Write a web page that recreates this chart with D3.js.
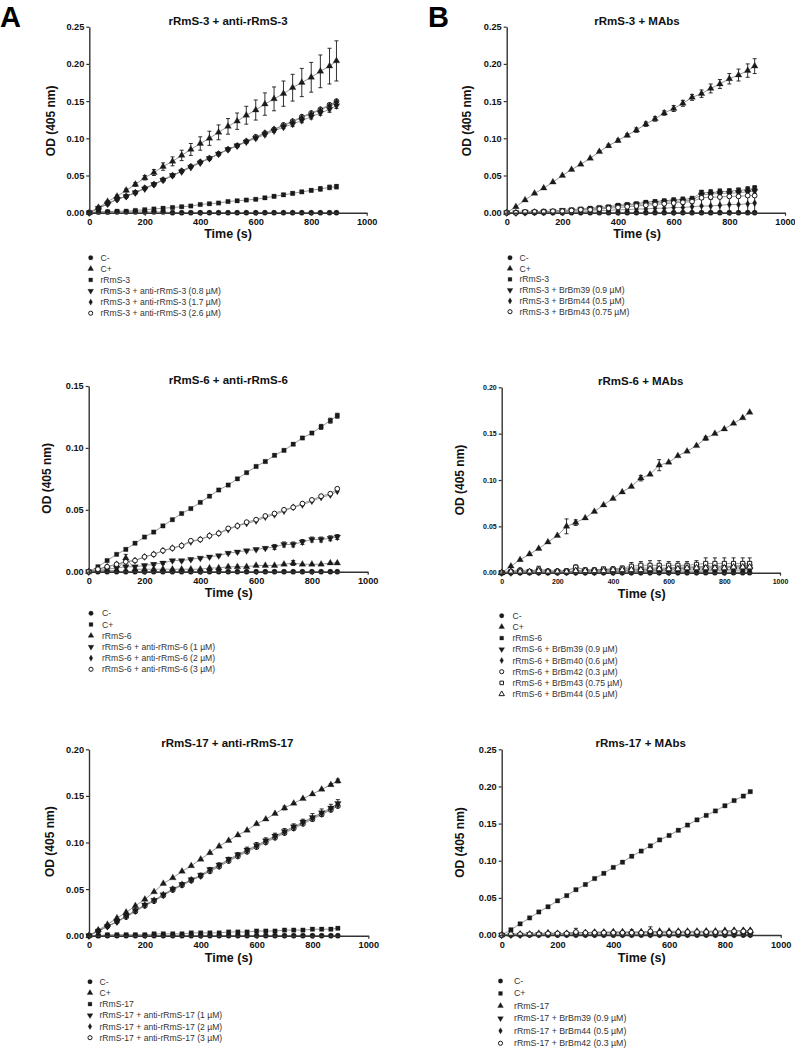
<!DOCTYPE html>
<html><head><meta charset="utf-8">
<script src="https://cdn.jsdelivr.net/npm/d3@7"></script>
<style>body{margin:0;background:#fff}svg{display:block}text{font-family:"Liberation Sans",Arial,sans-serif}</style>
</head><body><svg id="c" width="795" height="1050"></svg>
<script>
// ---------- DATA ----------
const times = [0,33,66,100,133,166,200,233,266,300,333,366,400,433,466,500,533,566,600,633,666,700,733,766,800,833,866,891];
const xTicks = [0,200,400,600,800,1000];
const yTicks025 = [0,0.05,0.10,0.15,0.20,0.25];
const yTicks020 = [0,0.05,0.10,0.15,0.20];
const yTicks015 = [0,0.05,0.10,0.15];

// Panel A1: rRmS-3 + anti-rRmS-3
const a1Labels = ["C-","C+","rRmS-3","rRmS-3 + anti-rRmS-3 (0.8 \u00B5M)","rRmS-3 + anti-rRmS-3 (1.7 \u00B5M)","rRmS-3 + anti-rRmS-3 (2.6 \u00B5M)"];
const a1Cneg = [0,0.001,0.001,0.001,0.001,0.001,0.001,0.001,0.001,0,0,0,0,0,0,0,0,0,0,0,0,0,0,0,0,0,0,0];
const a1Cpos = [0,0.007,0.015,0.022,0.030,0.038,0.047,0.054,0.062,0.069,0.077,0.085,0.093,0.100,0.108,0.116,0.123,0.131,0.138,0.146,0.153,0.160,0.168,0.175,0.182,0.190,0.197,0.204];
const a1CposErr = [0,0.0005,0.001,0.0015,0.002,0.0025,0.003,0.004,0.005,0.006,0.007,0.008,0.009,0.0095,0.010,0.0105,0.011,0.012,0.0135,0.015,0.016,0.017,0.018,0.019,0.020,0.022,0.024,0.027];
const a1Enz = [0,0.001,0.001,0.002,0.002,0.003,0.004,0.005,0.006,0.007,0.008,0.009,0.011,0.012,0.013,0.015,0.016,0.017,0.018,0.020,0.022,0.024,0.026,0.028,0.030,0.032,0.034,0.035];
const a1EnzErr = [0,0,0,0,0,0.001,0.001,0.001,0.001,0.001,0.001,0.001,0.001,0.001,0.001,0.001,0.001,0.001,0.001,0.001,0.002,0.002,0.002,0.002,0.002,0.003,0.003,0.003];
const a1Ab1 = [0,0.006,0.012,0.018,0.022,0.027,0.032,0.038,0.044,0.050,0.055,0.061,0.067,0.073,0.079,0.085,0.090,0.095,0.100,0.105,0.110,0.115,0.119,0.124,0.129,0.134,0.139,0.144];
const a1Ab1Err = [0,0,0,0,0,0,0,0,0,0,0,0,0.001,0.001,0.001,0.001,0.001,0.002,0.002,0.002,0.002,0.002,0.003,0.003,0.003,0.003,0.004,0.004];
const a1Ab2 = [0,0.006,0.012,0.018,0.022,0.027,0.033,0.038,0.044,0.050,0.056,0.062,0.068,0.073,0.079,0.085,0.090,0.096,0.101,0.107,0.112,0.117,0.122,0.128,0.133,0.138,0.144,0.149];
const a1Ab3 = [0,0.006,0.012,0.018,0.022,0.027,0.033,0.038,0.044,0.050,0.056,0.062,0.068,0.073,0.079,0.085,0.090,0.096,0.102,0.107,0.112,0.118,0.123,0.129,0.134,0.139,0.145,0.150];

// Panel B1: rRmS-3 + MAbs
const b1Labels = ["C-","C+","rRmS-3","rRmS-3 + BrBm39 (0.9 \u00B5M)","rRmS-3 + BrBm44 (0.5 \u00B5M)","rRmS-3 + BrBm43 (0.75 \u00B5M)"];
const b1Cneg = [0,0,0,0,0,0,0,0,0,0,0,0,0,0,0,0,0,0,0,0,0,0,0,0,0,0,0,0];
const b1Cpos = [0,0.008,0.017,0.026,0.033,0.041,0.050,0.058,0.065,0.073,0.082,0.090,0.097,0.104,0.111,0.119,0.126,0.134,0.140,0.147,0.155,0.160,0.167,0.173,0.180,0.185,0.191,0.197];
const b1CposErr = [0,0,0,0,0,0,0,0,0,0,0.001,0.002,0.002,0.002,0.003,0.003,0.003,0.003,0.004,0.004,0.004,0.005,0.006,0.006,0.007,0.008,0.009,0.010];
const b1Enz = [0,0,0.001,0.001,0.002,0.002,0.003,0.004,0.005,0.006,0.007,0.008,0.010,0.011,0.012,0.014,0.015,0.016,0.017,0.018,0.019,0.027,0.027,0.028,0.029,0.030,0.031,0.033];
const b1EnzErr = [0,0,0,0,0,0,0.001,0.001,0.001,0.001,0.001,0.001,0.001,0.001,0.002,0.002,0.002,0.002,0.002,0.002,0.002,0.003,0.003,0.003,0.003,0.003,0.003,0.003];
const b1Bm39 = [0,0,0.001,0.001,0.001,0.002,0.003,0.003,0.004,0.005,0.006,0.007,0.009,0.010,0.011,0.012,0.013,0.014,0.015,0.016,0.017,0.024,0.025,0.026,0.026,0.027,0.028,0.029];
const b1Bm39Err = [0,0,0,0,0,0,0.001,0.001,0.001,0.002,0.002,0.002,0.003,0.003,0.003,0.004,0.004,0.004,0.005,0.005,0.005,0.006,0.006,0.006,0.006,0.006,0.007,0.007];
const b1Bm44 = [0,0,0,0.001,0.001,0.001,0.001,0.002,0.002,0.002,0.003,0.003,0.004,0.004,0.005,0.005,0.006,0.006,0.007,0.007,0.008,0.009,0.009,0.010,0.011,0.011,0.012,0.013];
const b1Bm44Err = [0,0,0,0.001,0.001,0.001,0.001,0.002,0.002,0.002,0.003,0.003,0.004,0.004,0.005,0.005,0.006,0.006,0.007,0.007,0.008,0.009,0.009,0.010,0.011,0.011,0.012,0.013];
const b1Bm43 = [0,0,0.001,0.001,0.001,0.002,0.002,0.003,0.004,0.004,0.005,0.006,0.007,0.008,0.009,0.010,0.011,0.012,0.013,0.014,0.015,0.020,0.021,0.021,0.022,0.022,0.023,0.023];

// Panel A2: rRmS-6 + anti-rRmS-6
const a2Labels = ["C-","C+","rRmS-6","rRmS-6 + anti-rRmS-6 (1 \u00B5M)","rRmS-6 + anti-rRmS-6 (2 \u00B5M)","rRmS-6 + anti-rRmS-6 (3 \u00B5M)"];
const a2Cneg = [0,0,0,0,0,0,0,0,0,0,0,0,0,0,0,0,0,0,0,0,0,0,0,0,0,0,0,0];
const a2Cpos = [0,0.004,0.009,0.014,0.018,0.023,0.028,0.032,0.037,0.042,0.047,0.051,0.056,0.061,0.066,0.070,0.075,0.080,0.085,0.089,0.094,0.098,0.103,0.108,0.112,0.117,0.122,0.126];
const a2CposErr = [0,0,0,0,0.001,0,0,0,0,0,0,0,0,0,0,0,0,0,0.001,0.001,0.001,0.001,0.001,0.001,0.001,0.002,0.002,0.002];
const a2Enz = [0,0.001,0.001,0.001,0.011,0.002,0.002,0.002,0.002,0.002,0.002,0.002,0.002,0.003,0.003,0.004,0.004,0.004,0.005,0.005,0.005,0.006,0.007,0.006,0.006,0.006,0.007,0.007];
const a2EnzErr = [0,0,0,0,0.003,0,0,0,0,0,0,0,0,0,0,0,0,0,0,0,0,0,0.002,0,0,0,0,0];
const a2Ab1 = [0,0.001,0.002,0.003,0.004,0.004,0.005,0.006,0.007,0.009,0.009,0.010,0.011,0.012,0.013,0.015,0.016,0.017,0.018,0.019,0.020,0.022,0.022,0.024,0.026,0.026,0.027,0.028];
const a2Ab1Err = [0,0,0,0,0,0,0.001,0.001,0.001,0.001,0.001,0.001,0.001,0.001,0.001,0.001,0.001,0.001,0.001,0.001,0.002,0.002,0.002,0.002,0.002,0.002,0.002,0.002];
const a2Ab2 = [0,0.002,0.004,0.006,0.008,0.009,0.012,0.014,0.017,0.019,0.021,0.024,0.026,0.029,0.031,0.034,0.037,0.039,0.041,0.044,0.046,0.049,0.052,0.054,0.057,0.060,0.062,0.065];
const a2Ab3 = [0,0.002,0.004,0.006,0.008,0.009,0.012,0.014,0.017,0.019,0.021,0.025,0.026,0.029,0.031,0.035,0.037,0.040,0.042,0.045,0.047,0.050,0.052,0.055,0.058,0.061,0.063,0.067];

// Panel B2: rRmS-6 + MAbs
const b2Labels = ["C-","C+","rRmS-6","rRmS-6 + BrBm39 (0.9 \u00B5M)","rRmS-6 + BrBm40 (0.6 \u00B5M)","rRmS-6 + BrBm42 (0.3 \u00B5M)","rRmS-6 + BrBm43 (0.75 \u00B5M)","rRmS-6 + BrBm44 (0.5 \u00B5M)"];
const b2Cneg = [0,0,0,0,0,0,0,0,0,0,0,0,0,0,0,0,0,0,0,0,0,0,0,0,0,0,0,0];
const b2Cpos = [0,0.007,0.014,0.020,0.026,0.033,0.040,0.050,0.054,0.059,0.066,0.073,0.080,0.087,0.093,0.102,0.106,0.116,0.119,0.126,0.131,0.137,0.145,0.150,0.155,0.161,0.167,0.173];
const b2CposErr = [0,0,0,0,0,0,0,0.008,0.003,0,0,0,0,0,0,0.003,0,0.006,0,0,0,0,0.002,0,0,0,0,0];
const b2Enz = [0,0.001,0.001,0.001,0.002,0.001,0.001,0.001,0.002,0.002,0.002,0.002,0.002,0.002,0.003,0.003,0.003,0.003,0.004,0.004,0.006,0.006,0.006,0.006,0.006,0.007,0.007,0.007];
const b2Bm39 = [0,0,0.001,0.001,0.001,0.001,0.001,0.001,0.001,0.001,0.001,0.002,0.002,0.002,0.002,0.002,0.002,0.002,0.003,0.003,0.003,0.003,0.003,0.003,0.003,0.004,0.004,0.004];
const b2Bm40 = [0,0.001,0.001,0.001,0.001,0.001,0.001,0.001,0.001,0.001,0.001,0.001,0.001,0.001,0.001,0.001,0.001,0.001,0.001,0.001,0.001,0.001,0.002,0.002,0.002,0.002,0.002,0.002];
const b2Bm42 = [0,0.001,0.003,0.001,0.004,0.002,0.002,0.002,0.006,0.003,0.003,0.003,0.004,0.004,0.005,0.005,0.005,0.005,0.005,0.006,0.006,0.006,0.007,0.007,0.007,0.007,0.008,0.008];
const b2Bm42Err = [0,0,0.001,0,0.003,0,0,0,0.001,0,0,0,0.001,0.001,0.002,0.002,0.003,0.003,0.003,0.003,0.003,0.003,0.004,0.004,0.004,0.004,0.004,0.004];
const b2Bm43 = [0,0.001,0.002,0.001,0.002,0.001,0.001,0.002,0.006,0.003,0.003,0.004,0.004,0.005,0.007,0.008,0.008,0.008,0.008,0.008,0.008,0.009,0.010,0.010,0.010,0.010,0.010,0.010];
const b2Bm43Err = [0,0.001,0.002,0.001,0.004,0.001,0.001,0.001,0.002,0.001,0.001,0.002,0.002,0.002,0.004,0.004,0.005,0.005,0.004,0.004,0.004,0.004,0.006,0.006,0.006,0.006,0.006,0.006];
const b2Bm44 = [0,0.001,0.001,0.001,0.002,0.001,0.001,0.001,0.002,0.002,0.002,0.002,0.003,0.003,0.003,0.003,0.004,0.004,0.004,0.004,0.005,0.005,0.005,0.005,0.005,0.006,0.006,0.006];

// Panel A3: rRmS-17 + anti-rRmS-17
const a3Labels = ["C-","C+","rRmS-17","rRmS-17 + anti-rRmS-17 (1 \u00B5M)","rRmS-17 + anti-rRmS-17 (2 \u00B5M)","rRmS-17 + anti-rRmS-17 (3 \u00B5M)"];
const a3Cneg = [0,0,0,0,0,0,0,0,0,0,0,0,0,0,0,0,0,0,0,0,0,0,0,0,0,0,0,0];
const a3Cpos = [0,0.006,0.012,0.019,0.025,0.032,0.039,0.047,0.056,0.062,0.069,0.075,0.082,0.089,0.096,0.102,0.108,0.113,0.120,0.125,0.131,0.137,0.142,0.147,0.152,0.157,0.162,0.166];
const a3CposErr = [0,0,0,0,0,0,0,0,0,0,0,0,0,0,0,0,0,0,0,0,0,0.002,0,0,0,0,0.001,0.002];
const a3Enz = [0,0,0.001,0.001,0.001,0.001,0.001,0.002,0.002,0.002,0.002,0.003,0.003,0.003,0.003,0.004,0.004,0.004,0.005,0.005,0.005,0.006,0.006,0.006,0.007,0.007,0.007,0.008];
const a3Ab1 = [0,0.005,0.010,0.015,0.021,0.027,0.033,0.038,0.044,0.050,0.055,0.060,0.065,0.071,0.076,0.082,0.087,0.092,0.097,0.102,0.107,0.112,0.117,0.122,0.127,0.132,0.137,0.142];
const a3Ab1Err = [0,0,0,0,0,0,0.001,0.001,0.001,0.002,0.002,0.002,0.002,0.002,0.002,0.002,0.002,0.003,0.003,0.003,0.003,0.003,0.003,0.003,0.004,0.004,0.004,0.004];
const a3Ab2 = [0,0.005,0.010,0.015,0.021,0.027,0.033,0.038,0.044,0.050,0.055,0.060,0.064,0.070,0.075,0.081,0.086,0.091,0.096,0.101,0.106,0.111,0.116,0.121,0.126,0.131,0.136,0.140];
const a3Ab3 = [0,0.005,0.010,0.015,0.020,0.026,0.032,0.037,0.043,0.049,0.054,0.059,0.064,0.069,0.074,0.080,0.085,0.090,0.095,0.100,0.105,0.110,0.115,0.120,0.125,0.130,0.135,0.139];

// Panel B3: rRms-17 + MAbs
const b3Labels = ["C-","C+","rRmS-17","rRmS-17 + BrBm39 (0.9 \u00B5M)","rRmS-17 + BrBm44 (0.5 \u00B5M)","rRmS-17 + BrBm42 (0.3 \u00B5M)"];
const b3Cneg = [0,0,0,0,0,0,0,0,0,0,0,0,0,0,0,0,0,0,0,0,0,0,0,0,0,0,0,0];
const b3Cpos = [0,0.007,0.015,0.023,0.031,0.038,0.046,0.053,0.061,0.068,0.076,0.083,0.091,0.098,0.106,0.113,0.120,0.128,0.134,0.141,0.148,0.155,0.161,0.167,0.174,0.181,0.187,0.193];
const b3Enz = [0,0.001,0.001,0.001,0.002,0.002,0.002,0.002,0.003,0.003,0.003,0.003,0.004,0.004,0.004,0.004,0.004,0.005,0.005,0.005,0.005,0.005,0.005,0.005,0.006,0.006,0.006,0.006];
const b3Bm39 = [0,0,0,0.001,0.001,0.001,0.001,0.001,0.001,0.001,0.001,0.001,0.001,0.001,0.001,0.001,0.001,0.001,0.001,0.001,0.001,0.001,0.001,0.001,0.001,0.001,0.001,0.001];
const b3Bm44 = [0,0.001,0.001,0.001,0.001,0.003,0.002,0.002,0.003,0.003,0.004,0.004,0.004,0.004,0.004,0.004,0.005,0.004,0.004,0.004,0.004,0.004,0.005,0.005,0.005,0.006,0.006,0.006];
const b3Bm42 = [0,0.001,0.001,0.001,0.001,0.002,0.002,0.002,0.004,0.003,0.003,0.003,0.003,0.003,0.003,0.003,0.005,0.003,0.003,0.004,0.004,0.004,0.004,0.004,0.004,0.005,0.005,0.005];
const b3Bm42Err = [0,0,0,0,0,0.001,0,0,0.005,0.001,0.002,0.002,0.002,0.002,0.004,0.002,0.006,0.002,0.003,0.002,0.002,0.002,0.002,0.002,0.002,0.002,0.002,0.002];

// ---------- LAYOUT ----------
const panels = [
  {letter:"A", lx:0, px:[89.3,366.7], py:[212.7,26.7], ymax:0.25, yt:yTicks025, fs:9.2, order:[0,5,4,3,2,1],
   title:"rRmS-3 + anti-rRmS-3", tx:228, ty:25, ylx:55, yly:120.8, xlx:228, xly:237.5,
   leg:{mx:90.7, tx:100.5, y0:257.7, dy:11.1, fs:8.6}, labels:a1Labels,
   series:[[a1Cneg,null,"circle"],[a1Cpos,a1CposErr,"triangle"],[a1Enz,a1EnzErr,"square"],[a1Ab1,a1Ab1Err,"down"],[a1Ab2,null,"diamond"],[a1Ab3,null,"ocircle"]]},
  {letter:"B", lx:428, px:[506.7,785], py:[212.7,26.7], ymax:0.25, yt:yTicks025, fs:9.2, order:[0,1,2,3,4,5],
   title:"rRmS-3 + MAbs", tx:637, ty:25, ylx:471, yly:120.8, xlx:637, xly:237.5,
   leg:{mx:510, tx:519.5, y0:257.7, dy:10.8, fs:8.6}, labels:b1Labels,
   series:[[b1Cneg,null,"circle"],[b1Cpos,b1CposErr,"triangle"],[b1Enz,b1EnzErr,"square"],[b1Bm39,b1Bm39Err,"down"],[b1Bm44,b1Bm44Err,"diamond"],[b1Bm43,null,"ocircle"]]},
  {px:[88.7,367.7], py:[571.7,386], ymax:0.15, yt:yTicks015, fs:9.2, order:[0,1,2,3,4,5],
   title:"rRmS-6 + anti-rRmS-6", tx:228.3, ty:383.5, ylx:51, yly:478.3, xlx:228.7, xly:596.7,
   leg:{mx:91, tx:102, y0:613.3, dy:11.2, fs:8.6}, labels:a2Labels,
   series:[[a2Cneg,null,"circle"],[a2Cpos,a2CposErr,"square"],[a2Enz,a2EnzErr,"triangle"],[a2Ab1,a2Ab1Err,"down"],[a2Ab2,null,"diamond"],[a2Ab3,null,"ocircle"]]},
  {px:[501.7,780], py:[572.7,387.3], ymax:0.20, yt:yTicks020, fs:7, order:[0,1,2,3,4,5,6,7],
   title:"rRmS-6 + MAbs", tx:640.7, ty:385, ylx:464.3, yly:480, xlx:641.7, xly:598.3,
   leg:{mx:501.7, tx:512.5, y0:615.7, dy:11.2, fs:8.6}, labels:b2Labels,
   series:[[b2Cneg,null,"circle"],[b2Cpos,b2CposErr,"triangle"],[b2Enz,null,"square"],[b2Bm39,null,"down"],[b2Bm40,null,"diamond"],[b2Bm42,b2Bm42Err,"ocircle"],[b2Bm43,b2Bm43Err,"osquare"],[b2Bm44,null,"otriangle"]]},
  {px:[89,368.3], py:[935.7,749.3], ymax:0.20, yt:yTicks020, fs:9.2, order:[0,5,4,3,2,1],
   title:"rRmS-17 + anti-rRmS-17", tx:227.3, ty:746.7, ylx:53.8, yly:841.7, xlx:228.7, xly:961.7,
   leg:{mx:90, tx:99.5, y0:981.7, dy:11.2, fs:8.6}, labels:a3Labels,
   series:[[a3Cneg,null,"circle"],[a3Cpos,a3CposErr,"triangle"],[a3Enz,null,"square"],[a3Ab1,a3Ab1Err,"down"],[a3Ab2,null,"diamond"],[a3Ab3,null,"ocircle"]]},
  {px:[501.7,780.7], py:[935,749.3], ymax:0.25, yt:yTicks025, fs:9.2, order:[0,1,2,3,4,5],
   title:"rRms-17 + MAbs", tx:640.7, ty:746.7, ylx:464.3, yly:842.5, xlx:641.7, xly:961.7,
   leg:{mx:500.5, tx:514, y0:981, dy:12.45, fs:8.8}, labels:b3Labels,
   series:[[b3Cneg,null,"circle"],[b3Cpos,null,"square"],[b3Enz,null,"triangle"],[b3Bm39,null,"down"],[b3Bm44,null,"diamond"],[b3Bm42,b3Bm42Err,"ocircle"]]}
];

const SYM = {
  circle:{t:d3.symbolCircle, f:true, s:21},
  triangle:{t:d3.symbolTriangle, f:true, s:19},
  square:{t:d3.symbolSquare, f:true, s:19},
  down:{t:d3.symbolTriangle, f:true, s:19, r:180},
  diamond:{t:d3.symbolDiamond, f:true, s:15},
  ocircle:{t:d3.symbolCircle, f:false, s:18},
  osquare:{t:d3.symbolSquare, f:false, s:17},
  otriangle:{t:d3.symbolTriangle, f:false, s:17}
};

const svg = d3.select("#c");
const INK = "#1a1a1a", AX = "#333";

function marker(g, key, x, y, scale){
  const m = SYM[key];
  g.append("path")
    .attr("d", d3.symbol().type(m.t).size(m.s*(scale||1))())
    .attr("transform", `translate(${x},${y})` + (m.r ? ` rotate(${m.r})` : ""))
    .attr("fill", m.f ? INK : "#fff")
    .attr("stroke", INK).attr("stroke-width", m.f ? 0.3 : 1);
}

panels.forEach(p => {
  if (p.letter) svg.append("text").attr("x", p.lx).attr("y", 26.5).attr("font-size", 29).attr("font-weight", "bold").attr("fill", "#000").text(p.letter);
  const x = d3.scaleLinear().domain([0,1000]).range(p.px);
  const y = d3.scaleLinear().domain([0,p.ymax]).range(p.py);
  const g = svg.append("g");

  // connecting lines
  const line = d3.line().x((d,i) => x(times[i])).y(d => y(d));
  p.series.forEach(s => {
    g.append("path").datum(s[0]).attr("d", line).attr("fill","none").attr("stroke","#8a8a8a").attr("stroke-width",0.9);
  });
  // error bars
  p.series.forEach(s => {
    if (!s[1]) return;
    s[0].forEach((v,i) => {
      const e = s[1][i]; if (!e) return;
      const cx = x(times[i]), y1 = y(v+e), y2 = y(Math.max(0, v-e));
      g.append("line").attr("x1",cx).attr("x2",cx).attr("y1",y1).attr("y2",y2).attr("stroke",INK).attr("stroke-width",0.9);
      g.append("line").attr("x1",cx-2).attr("x2",cx+2).attr("y1",y1).attr("y2",y1).attr("stroke",INK).attr("stroke-width",0.9);
      if (v-e >= 0) g.append("line").attr("x1",cx-2).attr("x2",cx+2).attr("y1",y2).attr("y2",y2).attr("stroke",INK).attr("stroke-width",0.9);
    });
  });
  // markers (drawn in panel-specific stacking order)
  p.order.forEach(k => { const s = p.series[k]; s[0].forEach((v,i) => marker(g, s[2], x(times[i]), y(v))); });

  // axes
  const ya = svg.append("g").attr("transform", `translate(${p.px[0]},0)`)
    .call(d3.axisLeft(y).tickValues(p.yt).tickFormat(d3.format(".2f")).tickSize(3).tickSizeOuter(0).tickPadding(2));
  const xa = svg.append("g").attr("transform", `translate(0,${p.py[0]})`)
    .call(d3.axisBottom(x).tickValues(xTicks).tickFormat(d3.format("d")).tickSize(3).tickSizeOuter(0).tickPadding(3));
  [ya, xa].forEach(a => {
    a.select(".domain").attr("stroke", AX).attr("stroke-width", 1.4);
    a.selectAll(".tick line").attr("stroke", AX).attr("stroke-width", 1.2);
    a.selectAll(".tick text").attr("font-family", '"Liberation Sans",Arial,sans-serif').attr("font-size", p.fs).attr("font-weight","bold").attr("fill","#111");
  });

  // title and axis labels
  svg.append("text").attr("x", p.tx).attr("y", p.ty).attr("text-anchor","middle").attr("font-size",11.5).attr("font-weight","bold").attr("fill","#111").text(p.title);
  svg.append("text").attr("transform", `translate(${p.ylx},${p.yly}) rotate(-90)`).attr("text-anchor","middle").attr("font-size",12).attr("font-weight","bold").attr("fill","#111").text("OD (405 nm)");
  svg.append("text").attr("x", p.xlx).attr("y", p.xly).attr("text-anchor","middle").attr("font-size",12.5).attr("font-weight","bold").attr("fill","#111").text("Time (s)");

  // legend
  p.labels.forEach((lab,i) => {
    const yy = p.leg.y0 + i*p.leg.dy;
    marker(svg, p.series[i][2], p.leg.mx, yy, 0.75);
    svg.append("text").attr("x", p.leg.tx).attr("y", yy + 3).attr("font-size", p.leg.fs).attr("fill","#333").text(lab);
  });
});
</script></body></html>
